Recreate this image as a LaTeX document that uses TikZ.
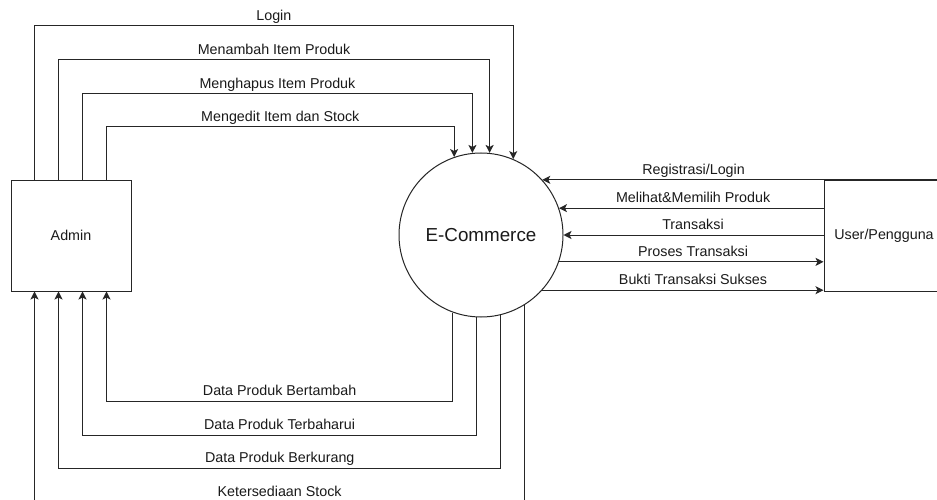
\documentclass[tikz,border=0pt]{standalone}
\usepackage{fontspec}
\setmainfont{Liberation Sans}
\usetikzlibrary{arrows.meta,calc}
\definecolor{stroke}{HTML}{262626}
\definecolor{ink}{HTML}{1A1A1A}
\begin{document}
\begin{tikzpicture}[x=1pt,y=-1pt,
  flow/.style={draw=stroke, line width=1pt, -{Stealth[length=8pt,width=8pt,inset=2pt]}},
  lbl/.style={font=\fontsize{14.3}{17}\selectfont, text=ink, inner sep=2pt, text height=10.3pt, text depth=3pt, above},
  entity/.style={draw=stroke, line width=1pt, minimum width=120pt, minimum height=111pt, inner sep=0pt, text=ink, font=\fontsize{14.3}{17}\selectfont},
  process/.style={circle, draw=stroke, line width=1pt, minimum size=164pt, inner sep=0pt, text=ink, font=\fontsize{18.8}{22}\selectfont}]
\clip (0,0) rectangle (937,500);
\fill[white] (0,0) rectangle (937,500);

% external entities and the process
\node[entity] (Admin) at (71,235.5) {Admin};
\node[process] (ECom) at (481,235) {E-Commerce};
\node[entity] (User) at (884,235.5) {User/Pengguna};

% heights of the routed flows
\coordinate (L1) at (0,26);
\coordinate (L2) at (0,60);
\coordinate (L3) at (0,94);
\coordinate (L4) at (0,127);
\coordinate (B1) at (0,401);
\coordinate (B2) at (0,435);
\coordinate (B3) at (0,468);
\coordinate (B4) at (0,502);

% Admin -> E-Commerce
\draw[flow] ($(Admin.north west)+(24,0)$) |- (ECom.67.03 |- L1) node[lbl,pos=.75]{Login} -- (ECom.67.03);
\draw[flow] ($(Admin.north west)+(48,0)$) |- (ECom.84.05 |- L2) node[lbl,pos=.75]{Menambah Item Produk} -- (ECom.84.05);
\draw[flow] ($(Admin.north west)+(72,0)$) |- (ECom.96.65 |- L3) node[lbl,pos=.75]{Menghapus Item Produk} -- (ECom.96.65);
\draw[flow] ($(Admin.north west)+(96,0)$) |- (ECom.109.2 |- L4) node[lbl,pos=.75]{Mengedit Item dan Stock} -- (ECom.109.2);

% E-Commerce -> Admin
\draw[flow] (ECom.250.8) -- (ECom.250.8 |- B1) -| ($(Admin.south west)+(96,0)$) node[lbl,pos=.25]{Data Produk Bertambah};
\draw[flow] (ECom.267.9) -- (ECom.267.9 |- B2) -| ($(Admin.south west)+(72,0)$) node[lbl,pos=.25]{Data Produk Terbaharui};
\draw[flow] (ECom.284.1) -- (ECom.284.1 |- B3) -| ($(Admin.south west)+(48,0)$) node[lbl,pos=.25]{Data Produk Berkurang};
\draw[flow] (ECom.302.5) -- (ECom.302.5 |- B4) -| ($(Admin.south west)+(24,0)$) node[lbl,pos=.25]{Ketersediaan Stock};

% User/Pengguna <-> E-Commerce
\draw[flow] (User.north east |- ECom.42.1) -- (ECom.42.1) node[lbl,pos=.624]{Registrasi/Login};
\draw[flow] (User.west |- ECom.19.2) -- (ECom.19.2) node[lbl,pos=.493]{Melihat\&Memilih Produk};
\draw[flow] (User.west |- ECom.-0.7) -- (ECom.-0.7) node[lbl,pos=.502]{Transaksi};
\draw[flow] (ECom.-19.2) -- (User.west |- ECom.-19.2) node[lbl,pos=.507]{Proses Transaksi};
\draw[flow] (ECom.-42.1) -- (User.west |- ECom.-42.1) node[lbl,pos=.536]{Bukti Transaksi Sukses};
\end{tikzpicture}
\end{document}
